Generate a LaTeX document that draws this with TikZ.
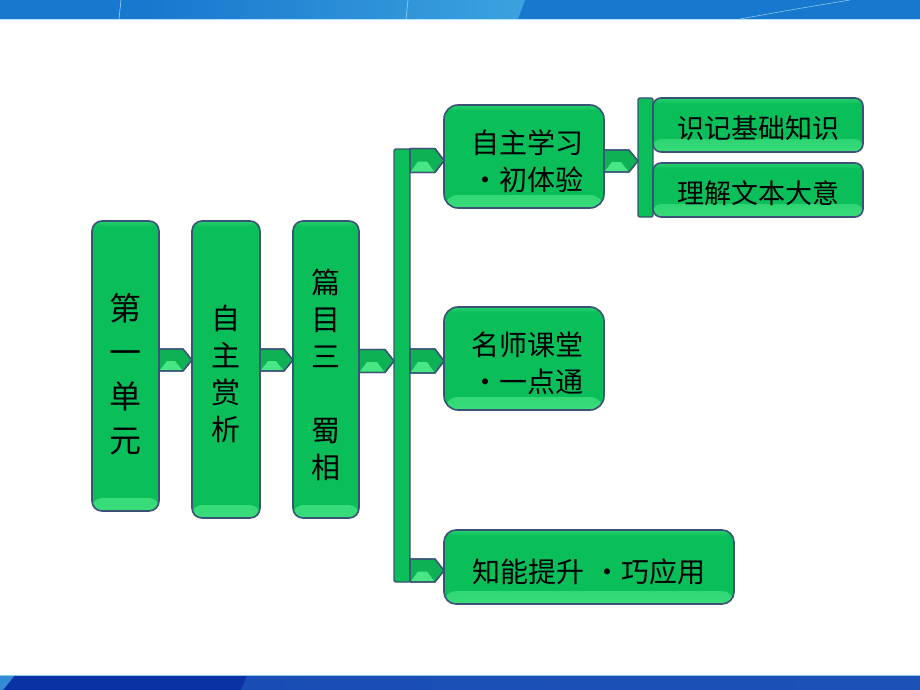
\documentclass[tikz,border=0pt]{standalone}
\usepackage{fontspec}
\newfontfamily\cjk{Noto Sans CJK SC}
\usetikzlibrary{calc}
\definecolor{boxgreen}{RGB}{10,190,90}
\definecolor{lightgreen}{RGB}{72,230,132}
\definecolor{arrowgreen}{RGB}{14,178,84}
\definecolor{edgeblue}{RGB}{58,82,118}
\definecolor{topblueA}{RGB}{24,120,206}
\definecolor{topblueB}{RGB}{60,162,222}
\definecolor{botblueA}{RGB}{10,50,165}
\definecolor{botblueB}{RGB}{28,82,184}
\tikzset{
  gbox/.style={draw=edgeblue, line width=1.6pt, fill=boxgreen, inner sep=0pt, outer sep=0pt,
    anchor=north west, rounded corners=#1,
    path picture={\shade[top color=boxgreen, bottom color=lightgreen!75!boxgreen]
      ([yshift=13pt]path picture bounding box.south west) rectangle (path picture bounding box.south east);
      \shade[bottom color=boxgreen, top color=lightgreen!45!boxgreen]
      ([yshift=-6pt]path picture bounding box.north west) rectangle (path picture bounding box.north east);}},
  gbar/.style={draw=edgeblue, line width=1.4pt, fill=boxgreen, inner sep=0pt, outer sep=0pt,
    anchor=north west, rounded corners=2pt},
  vtxt/.style={font=\cjk\fontsize{29pt}{37pt}\selectfont, align=center, inner sep=0pt},
  htxt/.style={font=\cjk\fontsize{28pt}{37pt}\selectfont, align=center, inner sep=0pt},
  stxt/.style={font=\cjk\fontsize{27pt}{32pt}\selectfont, align=center, inner sep=0pt},
  conn/.style={draw=edgeblue, line width=1.3pt, fill=arrowgreen, line join=round,
    to path={let \p1=(\tikztostart), \p2=(\tikztotarget) in
      (\x1,\y1+#1) -- (\x2-9pt,\y1+#1) -- (\x2,\y1) -- (\x2-9pt,\y1-#1) -- (\x1,\y1-#1) -- cycle}},
  connface/.style={fill=lightgreen,
    to path={let \p1=(\tikztostart), \p2=(\tikztotarget) in
      (\x1+8pt,\y1-1pt) -- (\x2-17pt,\y1-1pt) -- (\x2-10pt,\y1-#1+1pt) -- (\x1+1pt,\y1-#1+1pt) -- cycle}}
}
\begin{document}
\begin{tikzpicture}[x=1pt,y=-1pt]
\useasboundingbox (0,0) rectangle (920,690);
% top band
\fill[topblueA] (0,0) rectangle (920,19);
\shade[left color=topblueA, right color=topblueB] (150,0) -- (525,0) -- (518,19) -- (150,19) -- cycle;
\draw[topblueB!50!white, line width=0.6pt] (121,0) -- (119,19);
\draw[topblueB!50!white, line width=0.6pt] (408,0) -- (406,19);
\draw[topblueB!60!white, line width=0.6pt] (740,19) .. controls (790,10) .. (850,0);
\draw[white!70!cyan, line width=0.8pt] (0,19.3) -- (920,19.3);
% bottom band
\fill[botblueA] (0,675) rectangle (920,690);
\shade[left color=botblueB!85!botblueA, right color=botblueB] (247,675) -- (920,675) -- (920,690) -- (241,690) -- cycle;
\fill[topblueB!80!botblueA] (0,675) -- (15,675) -- (3,690) -- (0,690) -- cycle;
\draw[topblueB!60!white, line width=0.6pt] (0,675.2) -- (920,675.2);

% boxes
\node[gbox=10pt, minimum width=67pt, minimum height=290pt,
  label={[vtxt, font=\cjk\fontsize{32pt}{44pt}\selectfont, yshift=-8pt]center:第\\一\\单\\元}] (b1) at (92,221) {};
\node[gbox=10pt, minimum width=68pt, minimum height=297pt,
  label={[vtxt, yshift=-4.5pt]center:自\\主\\赏\\析}] (b2) at (192,221) {};
\node[gbox=10pt, minimum width=66pt, minimum height=297pt,
  label={[vtxt, yshift=-5pt]center:篇\\目\\三\\[37pt]蜀\\相}] (b3) at (293,221) {};
\node[gbar, minimum width=16pt, minimum height=433pt] (bar1) at (394,149) {};
\node[gbox=14pt, minimum width=160pt, minimum height=103pt,
  label={[htxt, yshift=-5pt, xshift=3pt]center:自主学习\\•初体验}] (b4) at (444,105) {};
\node[gbox=14pt, minimum width=160pt, minimum height=103pt,
  label={[htxt, yshift=-5pt, xshift=3pt]center:名师课堂\\•一点通}] (b5) at (444,307) {};
\node[gbox=12pt, minimum width=290pt, minimum height=74pt,
  label={[htxt, yshift=-5pt]center:知能提升\hspace{0.3em}•巧应用}] (b6) at (444,530) {};
\node[gbar, minimum width=15pt, minimum height=119pt] (bar2) at (638,98) {};
\node[gbox=8pt, minimum width=210pt, minimum height=54pt,
  label={[stxt, yshift=-3pt]center:识记基础知识}] (b7) at (653,98) {};
\node[gbox=8pt, minimum width=210pt, minimum height=54pt,
  label={[stxt, yshift=-3pt]center:理解文本大意}] (b8) at (653,163) {};

% connector levels
\coordinate (ya) at (0,360);
\coordinate (yb) at (0,361);
\coordinate (yc) at (0,160.5);
\coordinate (yd) at (0,570.5);
\coordinate (ye) at (0,161);

\foreach \s/\t/\l/\h in {b1.east/b2.west/ya/11pt, b2.east/b3.west/ya/11pt, b3.east/bar1.west/yb/11.5pt,
    bar1.east/b4.west/yc/12pt, bar1.east/b5.west/yb/12pt, bar1.east/b6.west/yd/11.5pt, b4.east/bar2.west/ye/11pt} {
  \path[conn=\h] (\s |- \l) to (\t |- \l);
  \path[connface=\h] (\s |- \l) to (\t |- \l);
  \path[draw=edgeblue, line width=1.3pt, line join=round, conn=\h, fill=none] (\s |- \l) to (\t |- \l);
}
\end{tikzpicture}
\end{document}
